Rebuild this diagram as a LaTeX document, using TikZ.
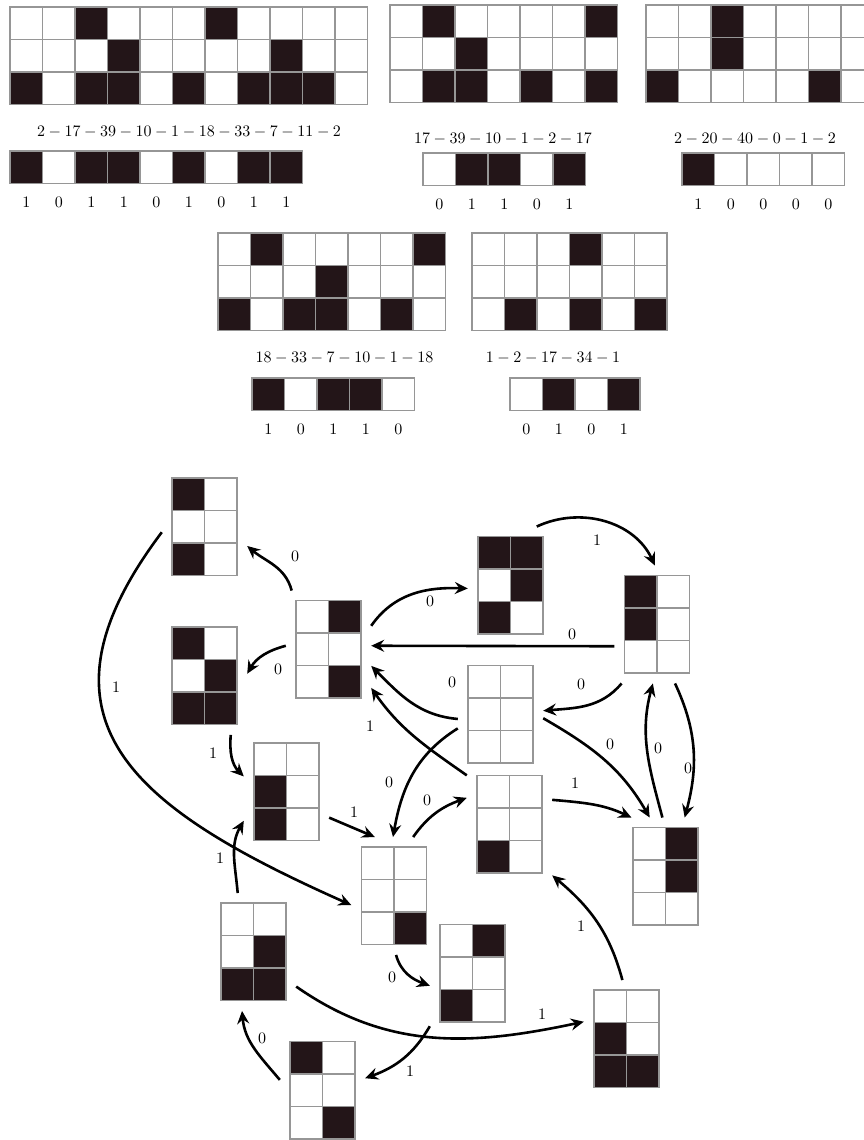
\documentclass[tikz,border=0pt]{standalone}
\usetikzlibrary{arrows.meta}

\definecolor{gridgray}{RGB}{150,150,150}
\definecolor{tiledark}{RGB}{35,21,24}
\colorlet{bit0}{white}
\colorlet{bit1}{tiledark}

\tikzset{
  cell/.style={draw=gridgray, line width=1.5pt},
  tile/.style={minimum width=85pt, minimum height=117.5pt, inner sep=0pt},
  move/.style={line width=2.6pt, -{Stealth[length=13pt, width=12pt, inset=4.5pt]}},
  lbl/.style={font=\normalsize, scale=1.6, inner sep=0pt},
}

% one row of cells, top left corner at (#1,#2)
\newcommand{\tilerow}[3]{%
  \foreach \bv [count=\ci from 0] in {#3}
    \draw[cell, fill=bit\bv] ({#1+\ci*32.5},{#2}) rectangle ++(32.5,-32.5);}

% a row of cells with its bits written below
\newcommand{\tilestrip}[4]{%
  \tilerow{#2}{#3}{#4}
  \foreach \bv [count=\ci from 0] in {#4}
    \node[lbl] (#1-\ci) at ({#2+16.25+\ci*32.5},{#3-51}) {$\bv$};}

% a 2x3 state named #1, centred at (#2,#3)
\newcommand{\tilestate}[6]{%
  \node[tile] (#1) at (#2,#3) {};
  \tilerow{#2-32.5}{#3+48.75}{#4}
  \tilerow{#2-32.5}{#3+16.25}{#5}
  \tilerow{#2-32.5}{#3-16.25}{#6}}

\begin{document}
\begin{tikzpicture}[x=1pt,y=1pt]
\useasboundingbox (0,0) rectangle (864,1140);
\clip (0,0) rectangle (864,1140);

% sequences
\tilerow{10}{1133}{0,0,1,0,0,0,1,0,0,0,0}
\tilerow{10}{1100.5}{0,0,0,1,0,0,0,0,1,0,0}
\tilerow{10}{1068}{1,0,1,1,0,1,0,1,1,1,0}
\node[lbl] (seqa) at (189,1008) {$2-17-39-10-1-18-33-7-11-2$};
\tilestrip{stra}{10}{989}{1,0,1,1,0,1,0,1,1}

\tilerow{390}{1135}{0,1,0,0,0,0,1}
\tilerow{390}{1102.5}{0,0,1,0,0,0,0}
\tilerow{390}{1070}{0,1,1,0,1,0,1}
\node[lbl] (seqb) at (503,1001) {$17-39-10-1-2-17$};
\tilestrip{strb}{423}{987}{0,1,1,0,1}

\tilerow{646}{1135}{0,0,1,0,0,0,0}
\tilerow{646}{1102.5}{0,0,1,0,0,0,0}
\tilerow{646}{1070}{1,0,0,0,0,1,0}
\node[lbl] (seqc) at (755,1001) {$2-20-40-0-1-2$};
\tilestrip{strc}{682}{987}{1,0,0,0,0}

\tilerow{218}{907}{0,1,0,0,0,0,1}
\tilerow{218}{874.5}{0,0,0,1,0,0,0}
\tilerow{218}{842}{1,0,1,1,0,1,0}
\node[lbl] (seqd) at (344.5,782) {$18-33-7-10-1-18$};
\tilestrip{strd}{252}{762}{1,0,1,1,0}

\tilerow{472}{907}{0,0,0,1,0,0}
\tilerow{472}{874.5}{0,0,0,0,0,0}
\tilerow{472}{842}{0,1,0,1,0,1}
\node[lbl] (seqe) at (553,782) {$1-2-17-34-1$};
\tilestrip{stre}{510}{762}{0,1,0,1}

% states
\tilestate{s1}{204.5}{613}{1,0}{0,0}{1,0}
\tilestate{s2}{328.5}{490.5}{0,1}{0,0}{0,1}
\tilestate{s3}{204.5}{464}{1,0}{0,1}{1,1}
\tilestate{s4}{510.5}{554.5}{1,1}{0,1}{1,0}
\tilestate{s5}{657}{515.5}{1,0}{1,0}{0,0}
\tilestate{s6}{500.5}{425.5}{0,0}{0,0}{0,0}
\tilestate{s7}{286.5}{348}{0,0}{1,0}{1,0}
\tilestate{s8}{394}{244}{0,0}{0,0}{0,1}
\tilestate{s9}{509.5}{315.5}{0,0}{0,0}{1,0}
\tilestate{s10}{253.5}{188}{0,0}{0,1}{1,1}
\tilestate{s11}{472.5}{166.5}{0,1}{0,0}{1,0}
\tilestate{s12}{322.5}{49.5}{1,0}{0,0}{0,1}
\tilestate{s13}{665.5}{263.5}{0,1}{0,1}{0,0}
\tilestate{s14}{626.5}{101}{0,0}{1,0}{1,1}

% moves
\draw[move] (s2.122) to[out=105,in=-40] (s1.-24);
\draw[move] (s2.175) to[out=195,in=60] (s3.3);
\draw[move] (s2.29) to[out=55,in=178] (s4.184);
\draw[move] (s5.207) -- (s2.5);
\draw[move] (s4.66) to[out=25,in=115] (s5.92);
\draw[move] (s5.239) to[out=230,in=5] (s6.5);
\draw[move] (s6.186) to[out=175,in=-45] (s2.-21);
\draw[move] (s9.131) to[out=145,in=-55] (s2.-42);
\draw[move] (s6.198) to[out=212,in=80] (s8.91);
\draw[move] (s8.72) to[out=55,in=200] (s9.148);
\draw[move] (s9.30) to[out=-5,in=155] (s13.120);
\draw[move] (s6.-5) to[out=-30,in=120] (s13.105);
\draw[move] (s13.93) to[out=105,in=-105] (s5.266);
\draw[move] (s5.-73) to[out=-65,in=75] (s13.72);
\draw[move] (s1.187) to[out=233,in=156,looseness=1.45] (s8.192);
\draw[move] (s3.-66) to[out=-95,in=135] (s7.160);
\draw[move] (s7.-31) -- (s8.108);
\draw[move] (s10.105) to[out=95,in=-120] (s7.214);
\draw[move] (s10.-39) to[out=-35,in=192] (s14.158);
\draw[move] (s8.-88) to[out=-75,in=160] (s11.196);
\draw[move] (s11.231) to[out=240,in=20] (s12.16);
\draw[move] (s12.166) to[out=130,in=-85] (s10.259);
\draw[move] (s14.94) to[out=105,in=-40] (s9.-50);

\node[lbl] (l1) at (295,584) {$0$};
\node[lbl] (l2) at (278,471) {$0$};
\node[lbl] (l3) at (430,539) {$0$};
\node[lbl] (l4) at (572,506) {$0$};
\node[lbl] (l5) at (597,600) {$1$};
\node[lbl] (l6) at (581,456) {$0$};
\node[lbl] (l7) at (452,458) {$0$};
\node[lbl] (l8) at (370,414) {$1$};
\node[lbl] (l9) at (389,358) {$0$};
\node[lbl] (l10) at (427,340) {$0$};
\node[lbl] (l11) at (575,357) {$1$};
\node[lbl] (l12) at (610,396) {$0$};
\node[lbl] (l13) at (658,392) {$0$};
\node[lbl] (l14) at (688,372) {$0$};
\node[lbl] (l15) at (116,453) {$1$};
\node[lbl] (l16) at (213,387) {$1$};
\node[lbl] (l17) at (354,328) {$1$};
\node[lbl] (l18) at (220,282) {$1$};
\node[lbl] (l19) at (542,126) {$1$};
\node[lbl] (l20) at (392,163) {$0$};
\node[lbl] (l21) at (410,69) {$1$};
\node[lbl] (l22) at (262,102) {$0$};
\node[lbl] (l23) at (581,214) {$1$};
\end{tikzpicture}
\end{document}
